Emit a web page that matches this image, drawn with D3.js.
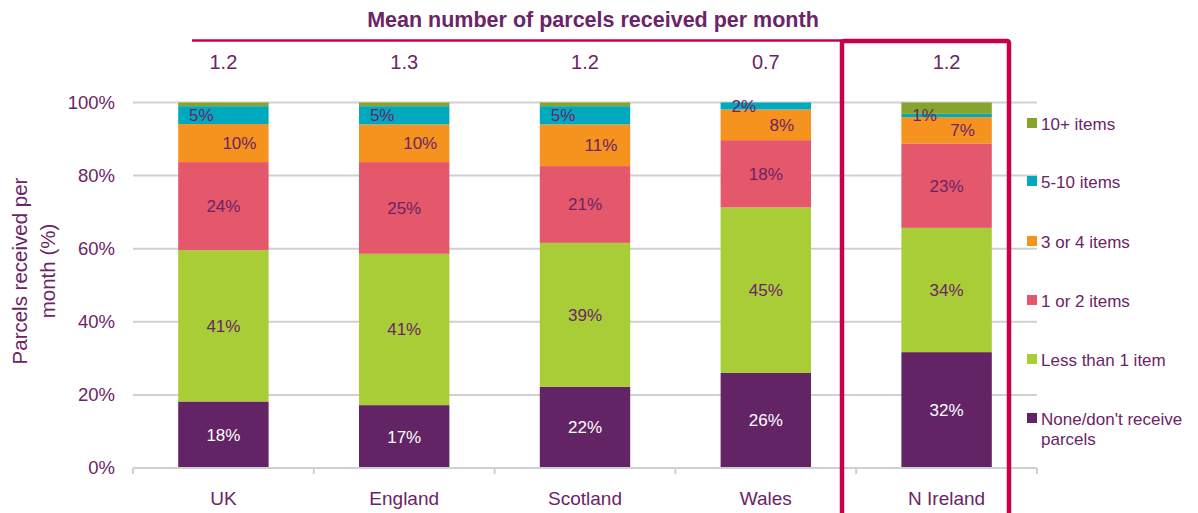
<!DOCTYPE html>
<html><head><meta charset="utf-8">
<script src="https://cdn.jsdelivr.net/npm/d3@7"></script>
<style>body{margin:0;background:#fff}svg{display:block}</style>
</head><body><svg id="c" width="1198" height="513"></svg>
<script>
const categories = ["UK","England","Scotland","Wales","N Ireland"];
const meanParcels = ["1.2","1.3","1.2","0.7","1.2"];
const seriesNames = ["None/don't receive parcels","Less than 1 item","1 or 2 items","3 or 4 items","5-10 items","10+ items"];
const noneVals   = [18.2, 17.2, 22.2, 26.0, 31.7];
const lessThan1  = [41.4, 41.4, 39.4, 45.3, 34.0];
const oneOrTwo   = [24.1, 25.1, 21.0, 18.4, 23.1];
const threeOrFour= [10.4, 10.3, 11.4, 8.4, 7.2];
const fiveToTen  = [4.9, 5.0, 5.0, 1.9, 0.9];
const tenPlus    = [1.0, 1.0, 1.0, 0.0, 3.1];
const yTicks = [0,20,40,60,80,100];

const colors = ["#632466","#a9cd37","#e5576a","#f6921e","#00a9be","#87a42d"];
const labelOffsetX = [0,0,0,16,-22,0];
const purple = "#6b2466";
const regular = "'Liberation Sans',Arial,sans-serif";

const seriesVals = [noneVals,lessThan1,oneOrTwo,threeOrFour,fiveToTen,tenPlus];
const rows = categories.map((c,i)=>{const o={cat:c}; seriesNames.forEach((s,j)=>o[s]=seriesVals[j][i]); return o;});
const stack = d3.stack().keys(seriesNames)(rows);

const svg = d3.select("#c");
const x = d3.scaleBand().domain(categories).range([133,1037]).paddingInner(0.5).paddingOuter(0.25);
const y = d3.scaleLinear().domain([0,100]).range([468,102.5]);

svg.append("g").selectAll("line").data(yTicks.filter(d=>d>0)).join("line")
  .attr("x1",133).attr("x2",1037).attr("y1",d=>y(d)).attr("y2",d=>y(d))
  .attr("stroke","#d0d0d0").attr("stroke-width",2);

svg.append("g").selectAll("text").data(yTicks).join("text")
  .attr("x",115).attr("y",d=>y(d)).attr("dy","0.35em").attr("text-anchor","end")
  .attr("font-family",regular).attr("font-size",18.5).attr("fill",purple).text(d=>d+"%");

const yt = svg.append("text").attr("transform","translate(0,271) rotate(-90)")
  .attr("text-anchor","middle").attr("font-family",regular).attr("font-size",20.5).attr("fill",purple);
yt.append("tspan").attr("x",0).attr("y",27).text("Parcels received per");
yt.append("tspan").attr("x",0).attr("y",55).text("month (%)");

const g = svg.append("g");
stack.forEach((layer,j)=>{
  g.append("g").attr("fill",colors[j]).selectAll("rect").data(layer).join("rect")
    .attr("x",d=>x(d.data.cat)).attr("width",x.bandwidth())
    .attr("y",d=>y(d[1])).attr("height",d=>y(d[0])-y(d[1]));
});
stack.forEach((layer,j)=>{
  if(j===5) return;
  g.append("g").selectAll("text").data(layer).join("text")
    .attr("x",d=>x(d.data.cat)+x.bandwidth()/2+labelOffsetX[j])
    .attr("y",d=>(y(d[0])+y(d[1]))/2).attr("dy","0.35em").attr("text-anchor","middle")
    .attr("font-family",regular).attr("font-size",17)
    .attr("fill",j===0?"#ffffff":purple)
    .text(d=>Math.round(d[1]-d[0])+"%");
});

svg.append("line").attr("x1",133).attr("x2",1037).attr("y1",468).attr("y2",468).attr("stroke","#d0d0d0").attr("stroke-width",2);
const bounds = categories.map(c=>x(c)-x.step()*0.25).concat([1037]);
svg.append("g").selectAll("line").data(bounds).join("line")
  .attr("x1",d=>d).attr("x2",d=>d).attr("y1",468).attr("y2",474).attr("stroke","#d0d0d0").attr("stroke-width",2);
svg.append("g").selectAll("text").data(categories).join("text")
  .attr("x",d=>x(d)+x.bandwidth()/2).attr("y",505).attr("text-anchor","middle")
  .attr("font-family",regular).attr("font-size",19).attr("fill",purple).text(d=>d);

svg.append("g").selectAll("text").data(meanParcels).join("text")
  .attr("x",(d,i)=>x(categories[i])+x.bandwidth()/2).attr("y",69).attr("text-anchor","middle")
  .attr("font-family",regular).attr("font-size",20).attr("fill",purple).text(d=>d);

svg.append("text").attr("x",593).attr("y",27).attr("text-anchor","middle")
  .attr("font-family",regular).attr("font-weight","bold").attr("font-size",21.5).attr("fill",purple)
  .text("Mean number of parcels received per month");
svg.append("line").attr("x1",192).attr("x2",842).attr("y1",40.5).attr("y2",40.5).attr("stroke","#c8004a").attr("stroke-width",2.5);
svg.append("rect").attr("x",842).attr("y",41).attr("width",167).attr("height",500).attr("rx",2)
  .attr("fill","none").attr("stroke","#c8004a").attr("stroke-width",4.5);

const legY = [419,360,301,242,182,124];
const lg = svg.append("g");
seriesNames.forEach((s,j)=>{
  lg.append("rect").attr("x",1027).attr("y",legY[j]-6).attr("width",10).attr("height",10).attr("fill",colors[j]);
  const t = lg.append("text").attr("x",1041).attr("y",legY[j]).attr("dy","0.35em")
    .attr("font-family",regular).attr("font-size",17).attr("fill",purple);
  if(j===0){ t.append("tspan").text("None/don't receive"); t.append("tspan").attr("x",1041).attr("dy",20).text("parcels"); }
  else t.text(s);
});
</script></body></html>
